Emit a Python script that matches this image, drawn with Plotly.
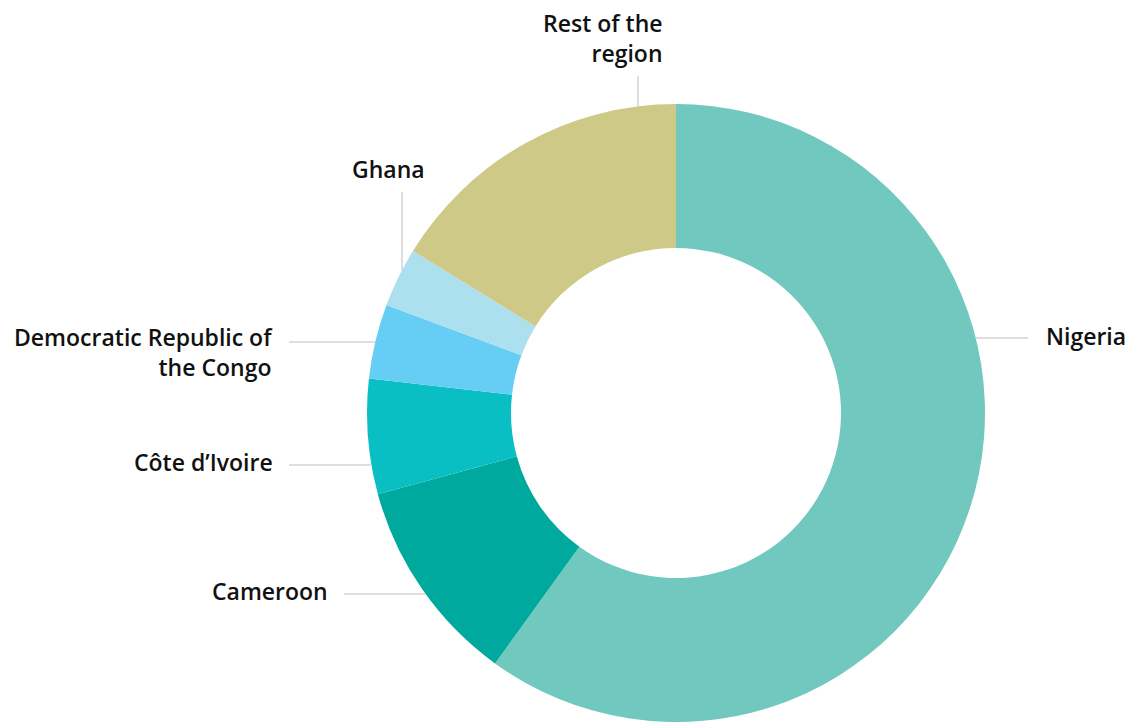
import math
import plotly.graph_objects as go

# ---- data ----
countries = ["Nigeria", "Cameroon", "Côte d’Ivoire", "Democratic Republic of the Congo", "Ghana", "Rest of the region"]
shares = [59.9, 10.8, 6.0, 3.9, 3.1, 16.2]
colors = ["#70C8BE", "#00A99D", "#0ABFC4", "#66CDF5", "#ADE0EE", "#CFC987"]
label_texts = ["Nigeria", "Cameroon", "Côte d’Ivoire", "Democratic Republic of<br>the Congo", "Ghana", "Rest of the<br>region"]

# ---- layout geometry (pixels) ----
W, H = 1131, 722
R = 309.0
CX = 676.0
CY = H - R
HOLE = 0.534

def px(x):
    return x / W

def py(y):
    return 1 - y / H

# label layout: (kind, line fixed coord, line outer end, text x, text y, anchor)
label_layout = [
    ("h", 338, 1028, 1044, 336, "left"),
    ("h", 594, 344, 330, 591, "right"),
    ("h", 465, 289, 275, 462, "right"),
    ("h", 342, 289, 275, 352, "right"),
    ("v", 402, 192, 388, 169, "center"),
    ("v", 638, 76, 665, 38, "right"),
]

fig = go.Figure(go.Pie(
    labels=countries,
    values=shares,
    marker=dict(colors=colors, line=dict(width=0)),
    hole=HOLE,
    sort=False,
    direction="clockwise",
    rotation=0,
    textinfo="none",
    hoverinfo="skip",
    showlegend=False,
    domain=dict(x=[px(CX - R), px(CX + R)], y=[0, 2 * R / H]),
))

shapes = []
annotations = []
for text, (kind, fixed, outer, tx, ty, anchor) in zip(label_texts, label_layout):
    if kind == "h":
        dy = fixed - CY
        dx = math.sqrt(max(R * R - dy * dy, 0))
        inner = CX + dx if outer > CX else CX - dx
        shapes.append(dict(type="line", xref="paper", yref="paper",
                           x0=px(inner), x1=px(outer), y0=py(fixed), y1=py(fixed),
                           line=dict(color="#BDBDBD", width=1)))
    else:
        dx = fixed - CX
        dy = math.sqrt(max(R * R - dx * dx, 0))
        inner = CY - dy
        shapes.append(dict(type="line", xref="paper", yref="paper",
                           x0=px(fixed), x1=px(fixed), y0=py(inner), y1=py(outer),
                           line=dict(color="#BDBDBD", width=1)))
    annotations.append(dict(
        text=text, xref="paper", yref="paper", x=px(tx), y=py(ty),
        xanchor=anchor, yanchor="middle", align=anchor,
        showarrow=False,
        font=dict(family="Open Sans", size=23, color="#111111", weight=600),
    ))

fig.update_layout(
    width=W, height=H,
    margin=dict(l=0, r=0, t=0, b=0),
    paper_bgcolor="white",
    plot_bgcolor="white",
    shapes=shapes,
    annotations=annotations,
)

fig.write_html("out.html", config={"displayModeBar": False},
               post_script="document.body.style.margin='0px';")
